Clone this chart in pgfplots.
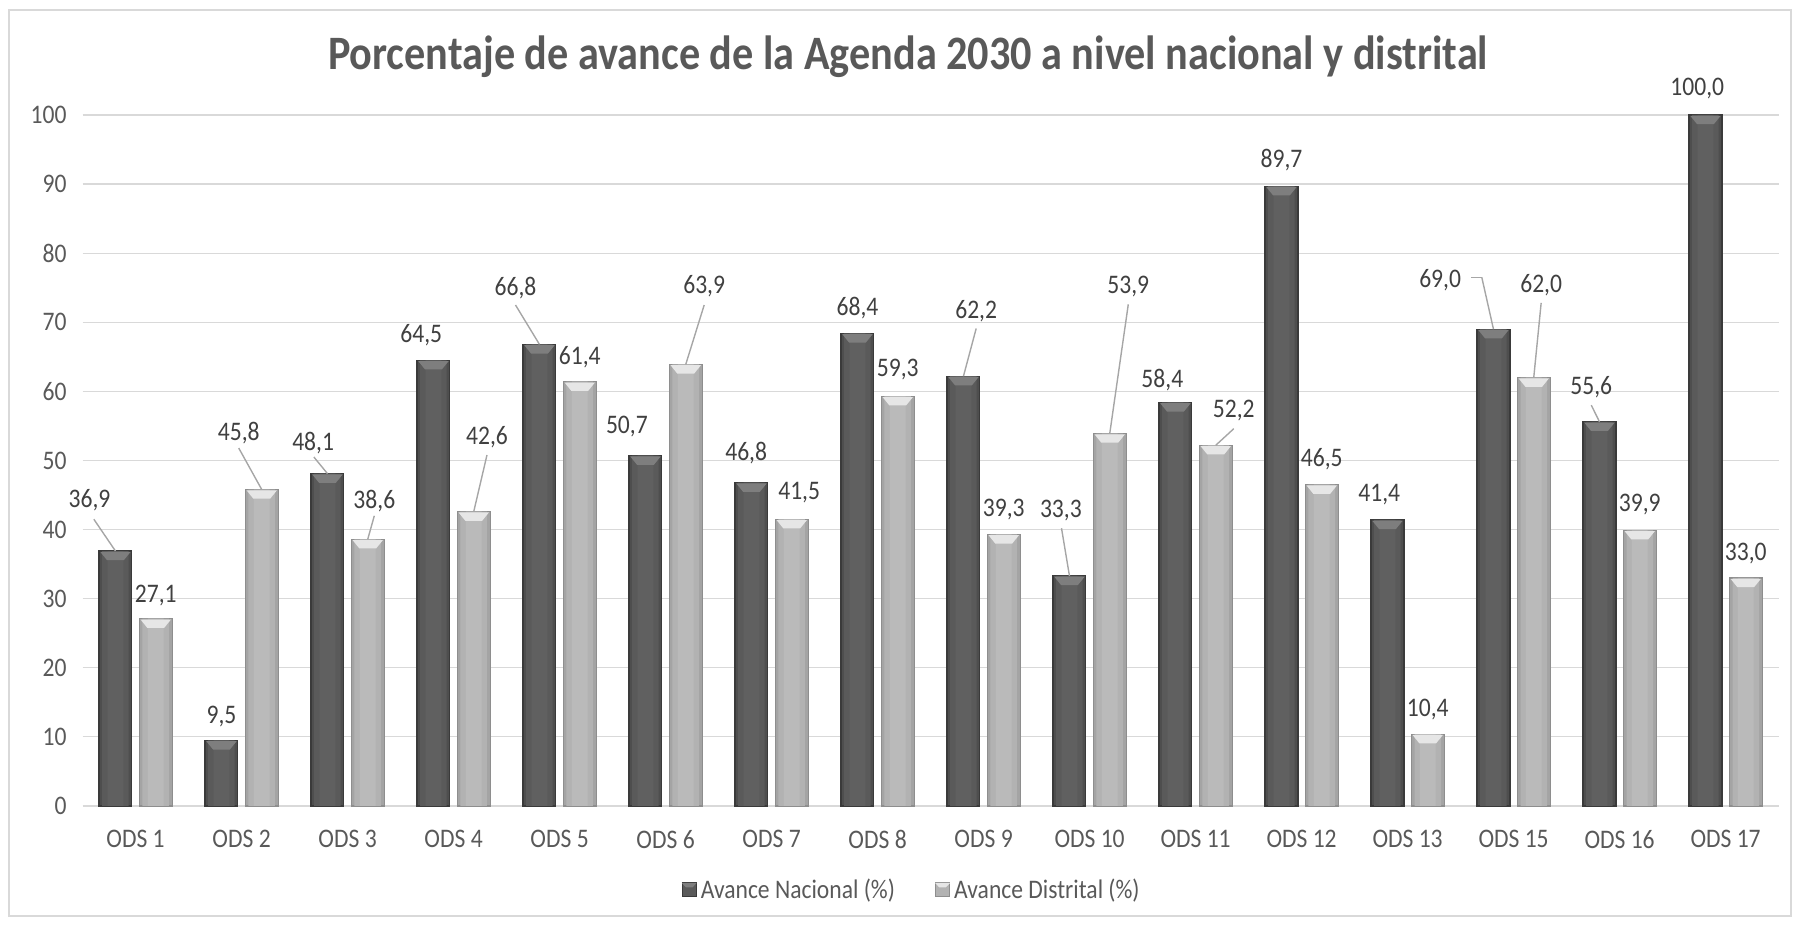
\documentclass[border=0pt]{standalone}
\usepackage{pgfplots}
\pgfplotsset{compat=1.18}
\usepackage{pgfplotstable}
\usepackage{fontspec}
\setmainfont{Carlito}[FakeStretch=0.88]

\definecolor{textgris}{HTML}{595959}
\definecolor{etiq}{HTML}{404040}
\definecolor{rejilla}{HTML}{D9D9D9}
\definecolor{guia}{HTML}{A6A6A6}
\definecolor{osc1}{HTML}{3A3A3A}
\definecolor{osc2}{HTML}{4E4E4E}
\definecolor{osc3}{HTML}{5A5A5A}
\definecolor{osc4}{HTML}{606060}
\definecolor{oscBisel}{HTML}{7E7E7E}
\definecolor{cla1}{HTML}{8E8E8E}
\definecolor{cla2}{HTML}{A4A4A4}
\definecolor{cla3}{HTML}{B2B2B2}
\definecolor{cla4}{HTML}{BABABA}
\definecolor{claBisel}{HTML}{E6E6E6}

% bisel de la parte superior de cada barra
\pgfdeclareplotmark{bisel}{%
  \pgfpathmoveto{\pgfpoint{-7.6pt}{-0.4pt}}%
  \pgfpathlineto{\pgfpoint{7.6pt}{-0.4pt}}%
  \pgfpathlineto{\pgfpoint{4.2pt}{-4.6pt}}%
  \pgfpathlineto{\pgfpoint{-4.2pt}{-4.6pt}}%
  \pgfpathclose\pgfusepathqfill}

% avance por ODS (posicion 0..15)
\pgfplotstableread{
x  nac   dis
0  36.9  27.1
1  9.5   45.8
2  48.1  38.6
3  64.5  42.6
4  66.8  61.4
5  50.7  63.9
6  46.8  41.5
7  68.4  59.3
8  62.2  39.3
9  33.3  53.9
10 58.4  52.2
11 89.7  46.5
12 41.4  10.4
13 69.0  62.0
14 55.6  39.9
15 100.0 33.0
}\datos

% posicion de las etiquetas de datos
\pgfplotstableread{
lx      ly     lab
-0.435  44.2   36,9
0.19    30.4   27,1
0.81    12.9   9,5
0.973   53.9   45,8
1.675   52.5   48,1
2.252   44.2   38,6
2.695   68.2   64,5
3.315   53.4   42,6
3.584   75.0   66,8
4.19    65.0   61,4
4.635   54.9   50,7
5.364   75.2   63,9
5.76    51.1   46,8
6.26    45.3   41,5
6.81    72.0   68,4
7.19    63.1   59,3
7.93    71.6   62,2
8.19    42.9   39,3
8.729   42.7   33,3
9.365   75.2   53,9
9.686   61.6   58,4
10.36   57.2   52,2
10.81   93.5   89,7
11.19   50.2   46,5
11.733  45.0   41,4
12.19   14.0   10,4
12.307  76.1   69,0
13.26   75.4   62,0
13.733  60.6   55,6
14.19   43.7   39,9
14.733  103.8  100,0
15.19   36.6   33,0
}\etiquetas

% lineas guia: inicio (x,y) y desplazamiento (u,v)
\pgfplotstableread{
x       y      u       v
-0.394  41.5   0.204   -4.6
0.973   51.8   0.217   -6.0
1.682   50.5   0.128   -2.4
2.252   42.0   -0.062  -3.4
3.315   50.8   -0.125  -8.2
3.584   72.5   0.226   -5.7
5.364   72.5   -0.174  -8.6
7.93    69.1   -0.12   -6.9
8.735   40.2   0.075   -6.9
9.365   72.6   -0.175  -18.7
10.36   54.6   -0.17   -2.4
12.597  76.5   0.103   0
12.70   76.5   0.11    -7.5
13.26   72.8   -0.07   -10.8
13.733  58.0   0.077   -2.4
}\guias

\begin{document}
\begin{tikzpicture}
\useasboundingbox (0,0) rectangle (900pt,462.5pt);
\draw[rejilla, line width=0.8pt] (4.5pt,4.5pt) rectangle (895.5pt,457.5pt);
\node[font=\fontsize{24}{28}\selectfont\bfseries, text=textgris]
  at (454pt,434pt) {Porcentaje de avance de la Agenda 2030 a nivel nacional y distrital};

\begin{axis}[
  at={(41.3pt,59.5pt)}, anchor=south west,
  width=848pt, height=345.5pt, scale only axis,
  xmin=-0.5, xmax=15.5, ymin=0, ymax=100,
  ytick={0,10,...,100},
  xtick={0,...,15},
  xticklabels={ODS 1,ODS 2,ODS 3,ODS 4,ODS 5,ODS 6,ODS 7,ODS 8,ODS 9,ODS 10,ODS 11,ODS 12,ODS 13,ODS 15,ODS 16,ODS 17},
  ymajorgrids,
  grid style={rejilla, line width=0.6pt},
  axis line style={draw=none},
  major tick length=0pt,
  tick label style={font=\fontsize{13.4}{16}\selectfont, text=textgris},
  /pgf/number format/assume math mode=true,
  xticklabel style={yshift=-8.5pt},
  yticklabel style={xshift=-4.5pt},
  clip=false,
  legend style={at={(0.4894,-0.1216)}, anchor=center, legend columns=2,
    draw=none, fill=none, inner sep=0pt,
    font=\fontsize{13.4}{16}\selectfont, text=textgris,
    /tikz/every even column/.append style={column sep=18pt}},
  legend cell align=left,
  barra/.style={ybar, bar width=#1, draw=none, line width=0pt},
]
% Avance Nacional: capas para el degradado horizontal
\addplot[ybar, bar width=0.31, bar shift=-0.19, fill=osc2, draw=osc1, line width=0.6pt,
  legend image code/.code={%
    \draw[draw=osc1, fill=osc3] (0pt,-3.3pt) rectangle (7pt,3.7pt);
    \fill[oscBisel] (0.4pt,3.3pt) -- (6.6pt,3.3pt) -- (5pt,1.6pt) -- (2pt,1.6pt) -- cycle;}]
  table[x=x, y=nac] {\datos};
\addlegendentry{Avance Nacional (\%)}

\addplot[ybar, bar width=0.31, bar shift=0.19, fill=cla2, draw=cla1, line width=0.6pt,
  legend image code/.code={%
    \draw[draw=cla1, fill=cla3] (0pt,-3.3pt) rectangle (7pt,3.7pt);
    \fill[claBisel] (0.4pt,3.3pt) -- (6.6pt,3.3pt) -- (5pt,1.6pt) -- (2pt,1.6pt) -- cycle;}]
  table[x=x, y=dis] {\datos};
\addlegendentry{Avance Distrital (\%)}

\addplot[forget plot, barra=0.25, bar shift=-0.19, fill=osc3] table[x=x, y=nac] {\datos};
\addplot[forget plot, barra=0.15, bar shift=-0.19, fill=osc4] table[x=x, y=nac] {\datos};
\addplot[forget plot, barra=0.25, bar shift=0.19, fill=cla3] table[x=x, y=dis] {\datos};
\addplot[forget plot, barra=0.15, bar shift=0.19, fill=cla4] table[x=x, y=dis] {\datos};

% bisel superior
\addplot[forget plot, only marks, mark=bisel, color=oscBisel]
  table[x expr=\thisrow{x}-0.19, y=nac] {\datos};
\addplot[forget plot, only marks, mark=bisel, color=claBisel]
  table[x expr=\thisrow{x}+0.19, y=dis] {\datos};

\addplot[forget plot, quiver={u=\thisrow{u}, v=\thisrow{v}}, draw=guia, line width=0.7pt, mark=none]
  table[x=x, y=y] {\guias};

\addplot[forget plot, draw=none, mark=none, nodes near coords,
  point meta=explicit symbolic,
  every node near coord/.style={anchor=center, inner sep=0pt,
    font=\fontsize{13.4}{16}\selectfont, text=etiq}]
  table[x=lx, y=ly, meta=lab] {\etiquetas};
\end{axis}
\end{tikzpicture}
\end{document}
